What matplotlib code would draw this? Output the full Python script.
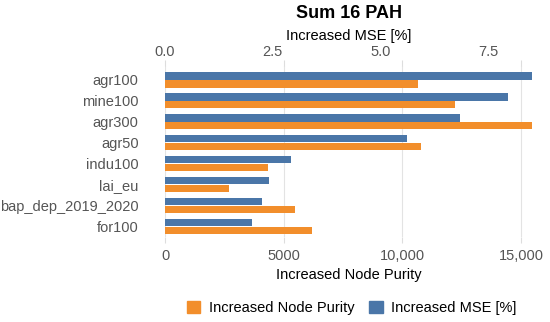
import matplotlib
matplotlib.use("Agg")
import matplotlib.pyplot as plt
import numpy as np
from matplotlib.patches import Patch

# data
categories = ["agr100", "mine100", "agr300", "agr50", "indu100",
              "lai_eu", "bap_dep_2019_2020", "for100"]
node_purity = [10640, 12200, 15450, 10800, 4340, 2680, 5470, 6190]
mse = [8.52, 7.96, 6.85, 5.62, 2.92, 2.42, 2.26, 2.01]
purity_ticks = [0, 5000, 10000, 15000]
purity_ticklabels = ["0", "5000", "10,000", "15,000"]
mse_ticks = [0.0, 2.5, 5.0, 7.5]
mse_ticklabels = ["0.0", "2.5", "5.0", "7.5"]

blue = "#4a76a8"
orange = "#f28e2b"
grey = "#555555"

plt.rcParams["font.family"] = ["Liberation Sans", "DejaVu Sans"]

fig = plt.figure(figsize=(5.5, 3.22), dpi=100)
ax = fig.add_axes([0.30, 0.264, 0.667, 0.531])
ax2 = ax.twiny()

y = np.arange(len(categories))
h = 0.37

ax.barh(y + 0.19, node_purity, height=h, color=orange, zorder=3)
ax2.barh(y - 0.19, mse, height=h, color=blue, zorder=3)

ax.set_xlim(0, 15450)
ax2.set_xlim(0, 8.52)
ax.set_ylim(7.5, -0.65)

ax.set_yticks(y)
ax.set_yticklabels(categories)
ax.tick_params(axis="y", length=0, pad=19, labelsize=10.5, labelcolor=grey)

ax.set_xticks(purity_ticks)
ax.set_xticklabels(purity_ticklabels)
ax.tick_params(axis="x", length=4, color="#dddddd", pad=5, labelsize=10.5,
               labelcolor=grey, top=True)
ax.grid(axis="x", color="#e3e3e3", linewidth=0.8, zorder=0)
ax.set_axisbelow(True)
ax.set_xlabel("Increased Node Purity", fontsize=10.5, labelpad=3)

ax2.set_xticks(mse_ticks)
ax2.set_xticklabels(mse_ticklabels)
ax2.tick_params(axis="x", length=0, pad=5, labelsize=10.5, labelcolor=grey)
ax2.set_xlabel("Increased MSE [%]", fontsize=10.5, labelpad=4)

for a in (ax, ax2):
    for s in a.spines.values():
        s.set_visible(False)

fig.text(0.635, 0.958, "Sum 16 PAH", ha="center", va="center",
         fontsize=13, fontweight="bold")

handles = [Patch(color=orange, label="Increased Node Purity"),
           Patch(color=blue, label="Increased MSE [%]")]
fig.legend(handles=handles, loc="center", bbox_to_anchor=(0.64, 0.043),
           ncol=2, frameon=False, fontsize=10.5, handlelength=0.9,
           handleheight=0.9, handletextpad=0.6, columnspacing=1.0,
           borderpad=0)

fig.savefig("out.png", dpi=100)
